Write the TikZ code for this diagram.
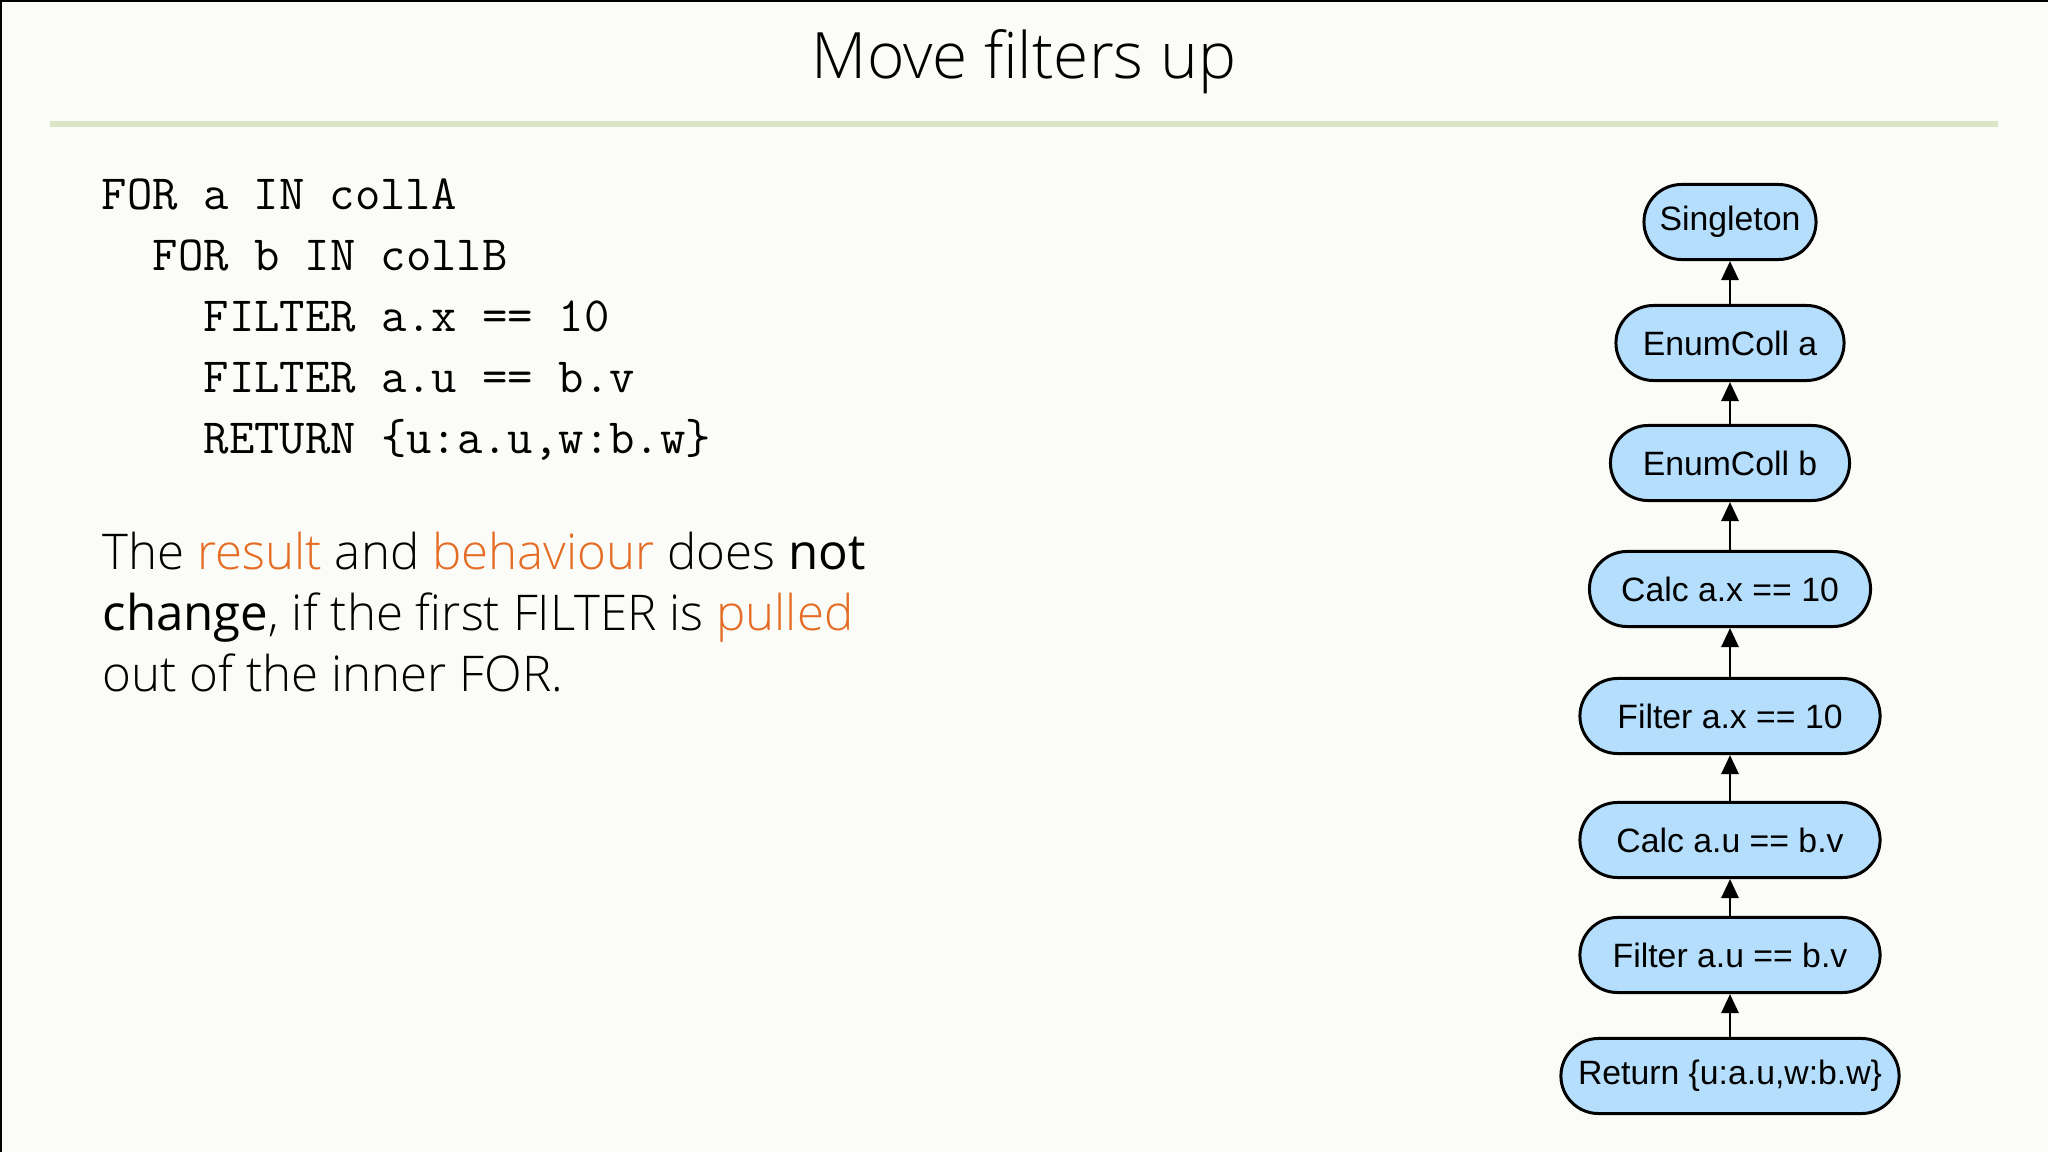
\documentclass[tikz,border=0pt]{standalone}
\usepackage{fontspec}
\setmainfont{Open Sans}[UprightFont=* Light, BoldFont={Open Sans}]
\newfontfamily\nodefont{Liberation Sans}
\usetikzlibrary{arrows.meta}
\definecolor{bgcol}{RGB}{251,252,248}
\definecolor{rulecol}{RGB}{217,229,197}
\definecolor{hilite}{RGB}{228,108,36}
\definecolor{nodeblue}{RGB}{180,222,252}
\tikzset{
  opnode/.style={draw=black, line width=0.85pt, fill=nodeblue, rounded corners=0.375cm,
    minimum height=0.75cm, inner sep=0pt, font=\nodefont\fontsize{9.6}{11}\selectfont},
  codeline/.style={anchor=base west, inner sep=0pt, font=\ttfamily\fontsize{14}{16}\selectfont},
  parline/.style={anchor=base west, inner sep=0pt, font=\fontsize{14}{18}\selectfont}
}
\begin{document}
\begin{tikzpicture}[x=0.01cm,y=-0.01cm,>={Triangle[length=0.19cm,width=0.17cm]}]
\useasboundingbox (0,0) rectangle (2048,1152);
%Background and frame
    \fill[bgcol] (0,0) rectangle (2048,1152);
    \draw[black,line width=0.02cm] (0,1) -- (2048,1);
    \draw[black,line width=0.02cm] (1,0) -- (1,1152);
%Title with rule below
    \node[anchor=base,inner sep=0pt,font=\fontsize{18.2}{22}\selectfont] (title) at (1024,79) {Move filters up};
    \draw[rulecol,line width=0.06cm] (50,124) -- (1998,124);
%Query
    \node[codeline] (code1) at (101,210) {FOR a IN collA};
    \node[codeline] (code2) at (152,271) {FOR b IN collB};
    \node[codeline] (code3) at (203,332) {FILTER a.x == 10};
    \node[codeline] (code4) at (203,393) {FILTER a.u == b.v};
    \node[codeline] (code5) at (203,454) {RETURN \{u:a.u,w:b.w\}};
%Explanation
    \node[parline] (par1) at (102,570) {The \textcolor{hilite}{result} and \textcolor{hilite}{behaviour} does \textbf{not}};
    \node[parline] (par2) at (102,630) {\textbf{change}, if the first FILTER is \textcolor{hilite}{pulled}};
    \node[parline] (par3) at (102,692) {out of the inner FOR.};
%Execution plan, one node per step
    \foreach \name/\y/\w/\txt in {singleton/222/1.72/Singleton, enuma/343/2.28/EnumColl a,
        enumb/463/2.39/EnumColl b, calcx/589/2.81/Calc a.x == 10, filterx/716/3.00/Filter a.x == 10,
        calcu/840/3.00/Calc a.u == b.v, filteru/955/3.00/Filter a.u == b.v,
        ret/1076/3.38/{Return \{u:a.u,w:b.w\}}}
        {
        \node[opnode,minimum width=\w cm] (\name) at (1730,\y) {\txt};
    }
%Arrows from each step up to the one before it
    \foreach \lo/\hi in {enuma/singleton,enumb/enuma,calcx/enumb,filterx/calcx,
        calcu/filterx,filteru/calcu,ret/filteru}
        \draw[->,line width=0.8pt] (\lo) -- (\hi);
\end{tikzpicture}
\end{document}
